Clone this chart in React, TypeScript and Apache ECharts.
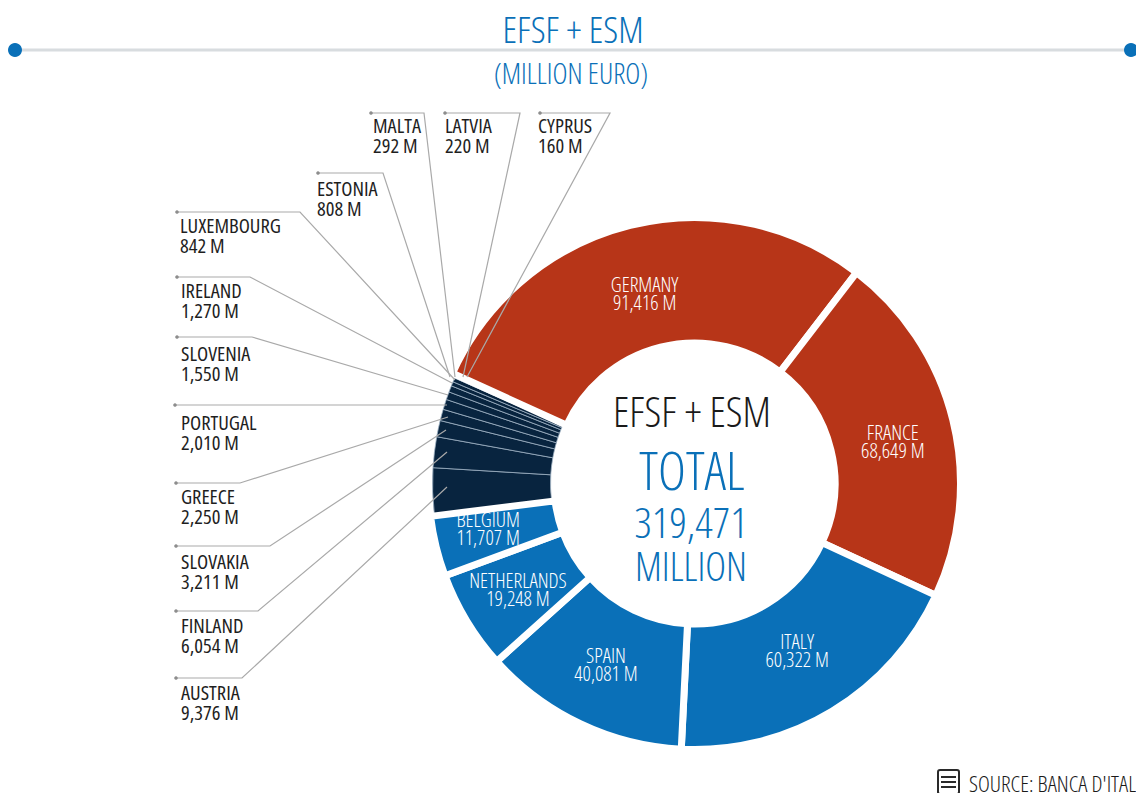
import React, { useEffect, useRef } from "react";
import * as echarts from "echarts";

const bigCountries = ["GERMANY", "FRANCE", "ITALY", "SPAIN", "NETHERLANDS", "BELGIUM"];
const bigValues = [91416, 68649, 60322, 40081, 19248, 11707];
const smallCountries = ["AUSTRIA", "FINLAND", "SLOVAKIA", "GREECE", "PORTUGAL", "SLOVENIA", "IRELAND", "LUXEMBOURG", "ESTONIA", "MALTA", "LATVIA", "CYPRUS"];
const smallValues = [9376, 6054, 3211, 2250, 2010, 1550, 1270, 842, 808, 292, 220, 160];
const redCountries = ["GERMANY", "FRANCE"];

// label anchor [x, y], leader line [ring end, bend, dot]
const leaders: Record<string, { at: number[]; line: number[][] }> = {
  MALTA: { at: [373, 115], line: [[455, 377], [424, 113], [371, 113]] },
  LATVIA: { at: [445, 115], line: [[463, 377], [520, 113], [445, 113]] },
  CYPRUS: { at: [538, 115], line: [[467, 377], [610, 113], [540, 113]] },
  ESTONIA: { at: [317, 178], line: [[450, 377], [383, 173], [318, 173]] },
  LUXEMBOURG: { at: [180, 215], line: [[455, 380], [300, 212], [177, 212]] },
  IRELAND: { at: [181, 280], line: [[452, 383], [250, 277], [177, 277]] },
  SLOVENIA: { at: [181, 343], line: [[448, 395], [252, 337], [177, 337]] },
  PORTUGAL: { at: [181, 412], line: [[447, 405], [300, 405], [175, 405]] },
  GREECE: { at: [181, 486], line: [[448, 417], [240, 483], [176, 483]] },
  SLOVAKIA: { at: [181, 551], line: [[446, 430], [270, 546], [176, 546]] },
  FINLAND: { at: [181, 615], line: [[447, 452], [258, 611], [176, 611]] },
  AUSTRIA: { at: [181, 682], line: [[447, 487], [242, 678], [176, 678]] },
};
const insideNudges: Record<string, number[]> = {
  GERMANY: [0, 10],
  FRANCE: [-2, 7],
  ITALY: [-4, -10],
  SPAIN: [0, -6],
  NETHERLANDS: [0, -1],
  BELGIUM: [-6, -4],
};

const FONT = '"Open Sans", sans-serif';
const BLUE = "#0a70b8";
const RED = "#b73518";
const DARK = "#08243f";
const NONE = "rgba(0,0,0,0)";
const CENTER = [694.5, 483.5];
const START = 155.5;

const fmt = (v: number) => v.toLocaleString("en-US") + " M";
const names = [...bigCountries, ...smallCountries];
const values = [...bigValues, ...smallValues];
const isBig = (n: string) => bigCountries.includes(n);

const blankItem = { color: NONE, borderWidth: 0 };
const headText = (text: string, x: number, y: number, size: number, fill: string) => ({
  type: "text",
  x,
  y,
  style: { text, fontFamily: FONT, fontSize: size, fontWeight: 300, fill, align: "center", verticalAlign: "middle" },
});
const basePie = {
  type: "pie",
  center: CENTER,
  startAngle: START,
  clockwise: true,
  silent: true,
  avoidLabelOverlap: false,
  animation: false,
  emphasis: { disabled: true },
};

export default function App() {
  const ref = useRef<HTMLDivElement>(null);
  useEffect(() => {
    const chart = echarts.init(ref.current!, null, { renderer: "svg" });
    chart.setOption({
      animation: false,
      backgroundColor: "#ffffff",
      graphic: {
        elements: [
          { type: "line", shape: { x1: 15, y1: 50, x2: 1131, y2: 50 }, style: { stroke: "#d8dcdf", lineWidth: 3 } },
          { type: "circle", shape: { cx: 15, cy: 50, r: 7 }, style: { fill: BLUE } },
          { type: "circle", shape: { cx: 1131, cy: 50, r: 7 }, style: { fill: BLUE } },
          headText("EFSF + ESM", 573, 28, 37.5, BLUE),
          headText("(MILLION EURO)", 571, 73, 28.5, BLUE),
          headText("EFSF + ESM", 692, 410, 42, "#1a1a1a"),
          headText("TOTAL", 692, 469, 53, BLUE),
          headText("319,471", 691, 521, 43, BLUE),
          headText("MILLION", 691, 566, 39.5, BLUE),
          ...Object.keys(leaders).map((k) => ({
            type: "circle",
            z: 20,
            shape: { cx: leaders[k].line[2][0], cy: leaders[k].line[2][1], r: 1.8 },
            style: { fill: "#8d8d8d" },
          })),
          { type: "rect", shape: { x: 938, y: 770, width: 21, height: 24, r: 2 }, style: { fill: "none", stroke: "#2a2a2a", lineWidth: 2 } },
          { type: "line", shape: { x1: 941, y1: 777, x2: 956, y2: 777 }, style: { stroke: "#2a2a2a", lineWidth: 2 } },
          { type: "line", shape: { x1: 941, y1: 782, x2: 956, y2: 782 }, style: { stroke: "#2a2a2a", lineWidth: 2 } },
          { type: "line", shape: { x1: 941, y1: 787, x2: 956, y2: 787 }, style: { stroke: "#2a2a2a", lineWidth: 2 } },
          {
            type: "text",
            x: 969,
            y: 783,
            style: { text: "SOURCE: BANCA D'ITALIA", fontFamily: FONT, fontSize: 22.5, fontWeight: 300, fill: "#1a1a1a", verticalAlign: "middle" },
          },
        ],
      },
      series: [
        {
          ...basePie,
          name: "small slices",
          z: 2,
          radius: [144, 262],
          label: { show: false },
          labelLine: { show: false },
          data: names.map((n, i) => ({
            name: n,
            value: values[i],
            itemStyle: isBig(n) ? blankItem : { color: DARK, borderColor: "#9fb3c4", borderWidth: 0.8 },
          })),
        },
        {
          ...basePie,
          name: "big slices",
          z: 3,
          radius: [140.5, 266],
          label: {
            show: true,
            position: "inside",
            color: "#ffffff",
            fontFamily: FONT,
            fontSize: 20.5,
            fontWeight: 300,
            lineHeight: 18,
            formatter: (p: any) => (isBig(p.name) ? `${p.name}\n${fmt(p.value)}` : ""),
          },
          labelLine: { show: false },
          labelLayout: (p: any) => {
            const n = insideNudges[names[p.dataIndex]];
            return n ? { dx: n[0], dy: n[1] } : {};
          },
          data: names.map((n, i) => ({
            name: n,
            value: values[i],
            itemStyle: isBig(n)
              ? { color: redCountries.includes(n) ? RED : BLUE, borderColor: "#ffffff", borderWidth: 7 }
              : blankItem,
          })),
        },
        {
          ...basePie,
          name: "leaders",
          z: 4,
          radius: [144, 262],
          label: {
            show: true,
            position: "outside",
            color: "#1f1f1f",
            fontFamily: FONT,
            fontSize: 20.5,
            fontWeight: 400,
            lineHeight: 20,
            formatter: (p: any) => (isBig(p.name) ? "" : `${p.name}\n${fmt(p.value)}`),
          },
          labelLine: { show: true, lineStyle: { color: "#a9a9a9", width: 1.2 } },
          labelLayout: (p: any) => {
            const l = leaders[names[p.dataIndex]];
            if (!l) return {};
            return { x: l.at[0], y: l.at[1], align: "left", verticalAlign: "top", labelLinePoints: l.line };
          },
          data: names.map((n, i) => ({
            name: n,
            value: values[i],
            itemStyle: blankItem,
            labelLine: { show: !isBig(n) },
          })),
        },
      ],
    });
    return () => chart.dispose();
  }, []);
  return (
    <>
      <style>{`.condensed text { font-stretch: 75% !important; }`}</style>
      <div
        ref={ref}
        className="condensed"
        style={{ position: "absolute", left: 0, top: 0, width: 1136, height: 793, overflow: "hidden" }}
      />
    </>
  );
}
